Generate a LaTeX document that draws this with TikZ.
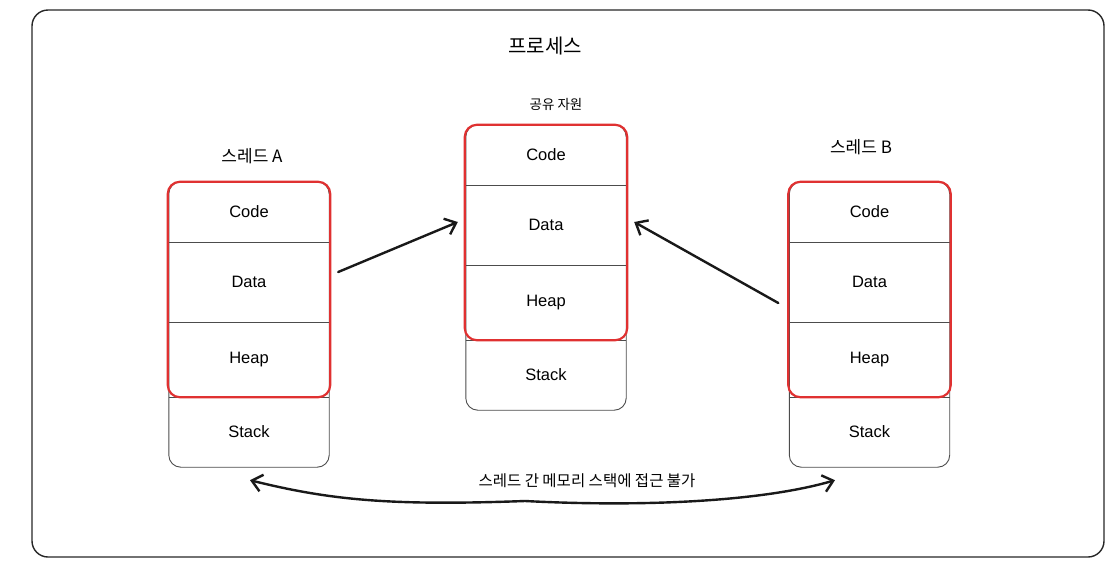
\documentclass[tikz,border=0pt]{standalone}
\usepackage{fontspec}
\setmainfont{Liberation Sans}
\newfontfamily\kr{Noto Sans CJK KR}
\usetikzlibrary{arrows.meta}
\definecolor{shared}{HTML}{E03131}
\tikzset{
  seg/.style={minimum width=160, inner sep=0, font=\fontsize{16.5}{19}\selectfont},
  stackline/.style={line width=0.9pt, color=black!70, rounded corners=12},
  divider/.style={line width=0.9pt, color=black!70},
  sharedbox/.style={line width=2.2pt, color=shared, rounded corners=12},
  label/.style={font=\kr\fontsize{17}{20}\selectfont},
  access/.style={line width=2.4pt, color=black!90, line cap=round, -{Straight Barb[length=10pt, width=17pt]}},
}
\def\memstack#1(#2,#3){%
  \node[seg, minimum height=60] (#1Code) at (#2,#3+30) {Code};
  \node[seg, minimum height=80] (#1Data) at (#2,#3+100) {Data};
  \node[seg, minimum height=75] (#1Heap) at (#2,#3+177.5) {Heap};
  \node[seg, minimum height=70] (#1Stack) at (#2,#3+250) {Stack};
  \draw[stackline] (#1Code.north west) rectangle (#1Stack.south east);
  \draw[divider] (#1Code.south west) -- (#1Code.south east);
  \draw[divider] (#1Data.south west) -- (#1Data.south east);
  \draw[divider] (#1Heap.south west) -- (#1Heap.south east);
  \draw[sharedbox] ([xshift=-1]#1Code.north west) rectangle ([xshift=1]#1Heap.south east);
}
\begin{document}
\begin{tikzpicture}[x=1pt, y=-1pt]
	\useasboundingbox (0,0) rectangle (1114,560);
	%%%%% START %%%%%
	
	\draw[line width=1.4pt, color=black!85, rounded corners=16] (32,10) rectangle (1104,557);
	\node[font=\kr\fontsize{20}{24}\selectfont] (process) at (545,46) {프로세스};
	
	\memstack a(249,182)
	\node[label] (threadA) at (252,156) {스레드 A};
	
	\memstack c(546,125)
	\node[font=\kr\fontsize{13.5}{16}\selectfont] (sharedRes) at (556,104) {공유 자원};
	
	\memstack b(869.5,182)
	\node[label] (threadB) at (861,147) {스레드 B};
	
	\draw[access] ([shift={(9,-10)}]aData.east) -- ([shift={(-8,-3)}]cData.west);
	\draw[access] ([shift={(-11,21)}]bData.west) -- ([shift={(8,-3)}]cData.east);
	
	\node[font=\kr\fontsize{15.5}{18}\selectfont] (noAccess) at (587,481) {스레드 간 메모리 스택에 접근 불가};
	\draw[access, {Straight Barb[length=10pt, width=17pt]}-{Straight Barb[length=10pt, width=17pt]}]
		([shift={(1,13)}]aStack.south) .. controls (330,500) and (390,506) .. (525,501)
		.. controls (640,507) and (760,502) .. ([shift={(-34.5,13)}]bStack.south);
	
	%%%%% END %%%%%
\end{tikzpicture}
\end{document}
